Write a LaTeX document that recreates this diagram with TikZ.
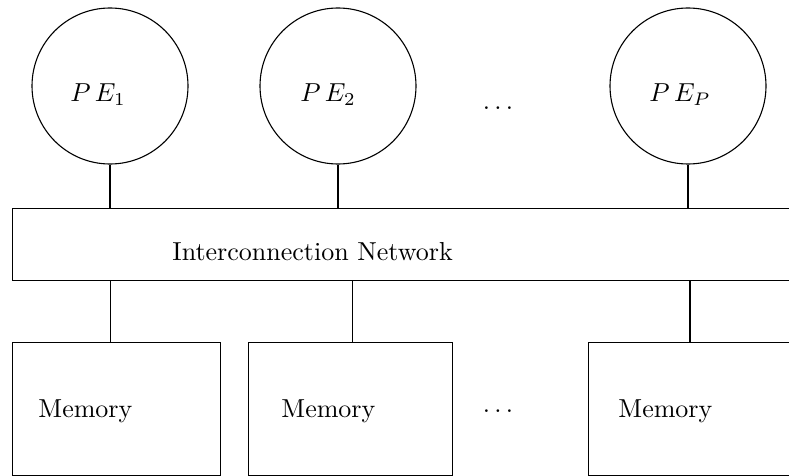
\documentclass[tikz,border=0pt]{standalone}
\begin{document}
\begin{tikzpicture}[x=1pt, y=-1pt, line width=1.1pt,
  pe/.style={circle, draw, minimum size=156pt, inner sep=0pt},
  box/.style={draw, rectangle, inner sep=0pt, anchor=north west},
  txt/.style={scale=2.6, transform shape, inner sep=0pt}]
\useasboundingbox (0,0) rectangle (789,476);
\clip (0,0) rectangle (789,476);

% processing elements
\node[pe] (pe1) at (110,86) {};
\node[pe] (pe2) at (338,86) {};
\node[pe] (pep) at (688,86) {};
\node[txt, anchor=base] (lpe1) at (98,102) {$P\,E_1$};
\node[txt, anchor=base] (lpe2) at (328,102) {$P\,E_2$};
\node[txt, anchor=base] (lpep) at (680,102) {$P\,E_P$};
\node[txt, anchor=base] (dtop) at (498,109.5) {$\ldots$};

% network spanning the full width
\node[box, minimum width=820pt, minimum height=72pt] (net) at (12,208) {};
\node[txt, anchor=base west] (lnet) at (171,260) {Interconnection Network};

% memory modules
\node[box, minimum width=208pt, minimum height=133pt] (m1) at (12,342) {};
\node[box, minimum width=204pt, minimum height=133pt] (m2) at (248,342) {};
\node[box, minimum width=240pt, minimum height=133pt] (m3) at (588,342) {};
\node[txt, anchor=base west] (lm1) at (37,417) {Memory};
\node[txt, anchor=base west] (lm2) at (280,417) {Memory};
\node[txt, anchor=base west] (lm3) at (617,417) {Memory};
\node[txt, anchor=base] (dbot) at (498,412.5) {$\ldots$};

% links PE -> network
\draw (pe1.south) -- (pe1.south |- net.north);
\draw (pe2.south) -- (pe2.south |- net.north);
\draw (pep.south) -- (pep.south |- net.north);

% links network -> memory
\draw ([xshift=-6pt]m1.north) -- ([xshift=-6pt]m1.north |- net.south);
\draw ([xshift=2pt]m2.north) -- ([xshift=2pt]m2.north |- net.south);
\draw ([xshift=102pt]m3.north west) -- ([xshift=102pt]m3.north west |- net.south);
\end{tikzpicture}
\end{document}
